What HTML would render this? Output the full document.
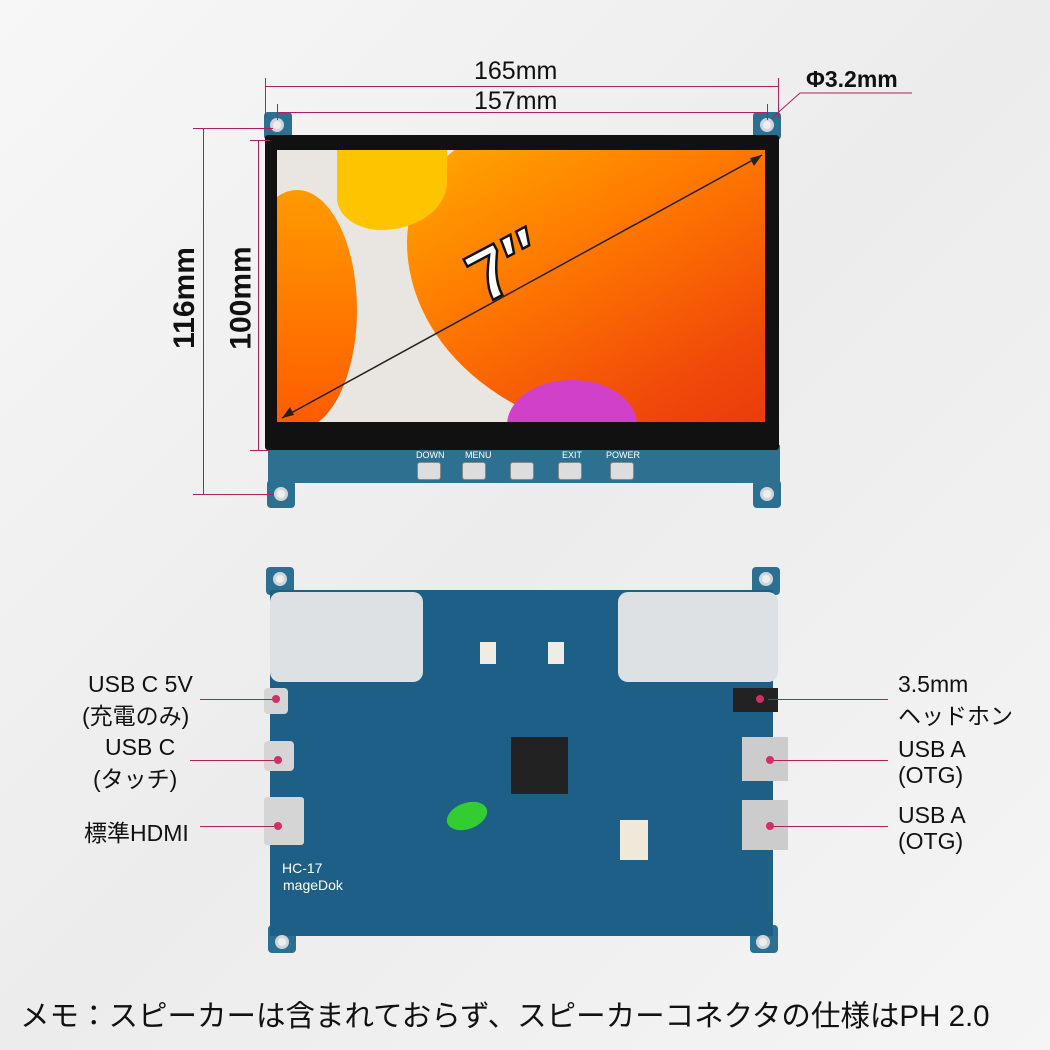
<!DOCTYPE html>
<html><head><meta charset="utf-8"><style>
body{margin:0;width:1050px;height:1050px;overflow:hidden;background:linear-gradient(135deg,#f7f7f7,#ececec 50%,#f5f5f5);font-family:"Liberation Sans","Noto Sans CJK JP",sans-serif;position:relative}
.a{position:absolute}
.t{position:absolute;color:#111;font-size:23px;white-space:nowrap}
.tab{position:absolute;width:28px;height:28px;background:#2b6f91;border-radius:4px}
.hole{position:absolute;width:14px;height:14px;border-radius:50%;background:#eee;border:3px solid #cfd6da;box-sizing:border-box}
.ln{position:absolute;background:#b0205a;height:1px}
.vln{position:absolute;background:#b0205a;width:1px}
.dot{position:absolute;width:8px;height:8px;border-radius:50%;background:#d0306a}
.btn{position:absolute;width:22px;height:16px;background:#ddd;border-radius:3px;border:1px solid #888}
.bl{position:absolute;color:#fff;font-size:9px}
</style></head><body>
<div class="tab" style="left:264px;top:112px"></div><div class="tab" style="left:753px;top:112px"></div>
<div class="tab" style="left:267px;top:480px"></div><div class="tab" style="left:753px;top:480px"></div>
<div class="hole" style="left:270px;top:118px"></div><div class="hole" style="left:760px;top:118px"></div>
<div class="hole" style="left:274px;top:487px"></div><div class="hole" style="left:760px;top:487px"></div>
<div class="a" style="left:268px;top:445px;width:512px;height:38px;background:#2d7090"></div>
<div class="a" style="left:265px;top:135px;width:514px;height:315px;background:#111;border-radius:3px"></div>
<div class="a" style="left:277px;top:150px;width:488px;height:272px;overflow:hidden;background:#e9e6e2">
 <div class="a" style="left:130px;top:-40px;width:420px;height:330px;background:linear-gradient(150deg,#ffb300,#ff7a00 40%,#f04a0a 75%,#e8340c);border-radius:40% 0 0 60%"></div>
 <div class="a" style="left:-40px;top:40px;width:120px;height:240px;background:linear-gradient(#ff9a00,#ff5a00);border-radius:50%"></div>
 <div class="a" style="left:60px;top:0px;width:110px;height:80px;background:#ffc400;border-radius:0 0 60% 40%"></div>
 <div class="a" style="left:230px;top:230px;width:130px;height:90px;background:#d040c8;border-radius:50%"></div>
</div>
<svg class="a" style="left:0;top:0" width="1050" height="1050">
<line x1="282" y1="418" x2="762" y2="155" stroke="#222" stroke-width="1.5"/>
<polygon points="762,155 750,158 754,166" fill="#222"/><polygon points="282,418 294,415 290,407" fill="#222"/>
<text x="465" y="292" font-size="72" font-weight="bold" fill="#fff" stroke="#111" stroke-width="2.5" transform="rotate(-28 500 260)" font-family="Liberation Sans">7″</text>
</svg>
<div class="btn" style="left:417px;top:462px"></div><div class="btn" style="left:462px;top:462px"></div><div class="btn" style="left:510px;top:462px"></div><div class="btn" style="left:558px;top:462px"></div><div class="btn" style="left:610px;top:462px"></div>
<div class="bl" style="left:416px;top:450px">DOWN</div><div class="bl" style="left:465px;top:450px">MENU</div><div class="bl" style="left:562px;top:450px">EXIT</div><div class="bl" style="left:606px;top:450px">POWER</div>
<div class="ln" style="left:265px;top:86px;width:514px"></div>
<div class="ln" style="left:277px;top:112px;width:490px"></div>
<div class="vln" style="left:265px;top:78px;height:40px"></div><div class="vln" style="left:778px;top:78px;height:40px"></div>
<div class="vln" style="left:277px;top:104px;height:16px"></div><div class="vln" style="left:767px;top:104px;height:16px"></div>
<div class="t" style="left:474px;top:57px;font-size:25px">165mm</div>
<div class="t" style="left:474px;top:87px;font-size:25px">157mm</div>
<div class="vln" style="left:203px;top:128px;height:366px"></div>
<div class="ln" style="left:193px;top:128px;width:80px"></div><div class="ln" style="left:193px;top:494px;width:80px"></div>
<div class="vln" style="left:258px;top:140px;height:310px"></div>
<div class="ln" style="left:250px;top:140px;width:20px"></div><div class="ln" style="left:250px;top:450px;width:20px"></div>
<div class="t" style="left:134px;top:281px;font-size:30px;font-weight:bold;transform:rotate(-90deg)">116mm</div>
<div class="t" style="left:190px;top:281px;font-size:30px;font-weight:bold;transform:rotate(-90deg)">100mm</div>
<svg class="a" style="left:0;top:0" width="1050" height="1050"><polyline points="772,118 800,93 912,93" fill="none" stroke="#b0205a" stroke-width="1"/></svg>
<div class="t" style="left:806px;top:66px;font-weight:bold">Φ3.2mm</div>
<div class="tab" style="left:266px;top:567px"></div><div class="tab" style="left:752px;top:567px"></div>
<div class="tab" style="left:268px;top:925px"></div><div class="tab" style="left:750px;top:925px"></div>
<div class="a" style="left:270px;top:590px;width:503px;height:346px;background:#1e5f87"></div>
<div class="hole" style="left:273px;top:572px"></div><div class="hole" style="left:759px;top:572px"></div>
<div class="hole" style="left:275px;top:935px"></div><div class="hole" style="left:756px;top:935px"></div>
<div class="a" style="left:270px;top:592px;width:153px;height:90px;background:#dde1e4;border-radius:10px"></div>
<div class="a" style="left:618px;top:592px;width:160px;height:90px;background:#dde1e4;border-radius:10px"></div>
<div class="a" style="left:511px;top:737px;width:57px;height:57px;background:#222"></div>
<div class="a" style="left:446px;top:803px;width:42px;height:26px;background:#3c3;border-radius:50%;transform:rotate(-20deg)"></div>
<div class="a" style="left:620px;top:820px;width:28px;height:40px;background:#f0e8d8"></div>
<div class="a" style="left:480px;top:642px;width:16px;height:22px;background:#f0ece4"></div><div class="a" style="left:548px;top:642px;width:16px;height:22px;background:#f0ece4"></div>
<div class="a" style="left:264px;top:688px;width:24px;height:26px;background:#d5d5d5;border-radius:4px"></div>
<div class="a" style="left:264px;top:741px;width:30px;height:30px;background:#d5d5d5;border-radius:4px"></div>
<div class="a" style="left:264px;top:797px;width:40px;height:48px;background:#d5d5d5;border-radius:3px"></div>
<div class="a" style="left:733px;top:688px;width:45px;height:24px;background:#222"></div>
<div class="a" style="left:742px;top:737px;width:46px;height:44px;background:#ccc"></div>
<div class="a" style="left:742px;top:800px;width:46px;height:50px;background:#ccc"></div>
<div class="bl" style="left:282px;top:860px;font-size:14px">HC-17</div>
<div class="bl" style="left:283px;top:877px;font-size:14px">mageDok</div>
<div class="t" style="left:88px;top:671px">USB C 5V</div>
<div class="t" style="left:82px;top:697px">(充電のみ)</div>
<div class="t" style="left:105px;top:734px">USB C</div>
<div class="t" style="left:93px;top:760px">(タッチ)</div>
<div class="t" style="left:84px;top:814px">標準HDMI</div>
<div class="ln" style="left:200px;top:699px;width:75px"></div>
<div class="ln" style="left:190px;top:760px;width:87px"></div>
<div class="ln" style="left:200px;top:826px;width:77px"></div>
<div class="dot" style="left:272px;top:695px"></div><div class="dot" style="left:274px;top:756px"></div><div class="dot" style="left:274px;top:822px"></div>
<div class="t" style="left:898px;top:671px">3.5mm</div>
<div class="t" style="left:898px;top:697px">ヘッドホン</div>
<div class="t" style="left:898px;top:736px">USB A</div>
<div class="t" style="left:898px;top:762px">(OTG)</div>
<div class="t" style="left:898px;top:802px">USB A</div>
<div class="t" style="left:898px;top:828px">(OTG)</div>
<div class="ln" style="left:768px;top:699px;width:120px"></div>
<div class="ln" style="left:770px;top:760px;width:118px"></div>
<div class="ln" style="left:770px;top:826px;width:118px"></div>
<div class="dot" style="left:756px;top:695px"></div><div class="dot" style="left:766px;top:756px"></div><div class="dot" style="left:766px;top:822px"></div>
<div class="t" style="left:20px;top:993px;font-size:29.5px">メモ：スピーカーは含まれておらず、スピーカーコネクタの仕様はPH 2.0</div>
</body></html>
